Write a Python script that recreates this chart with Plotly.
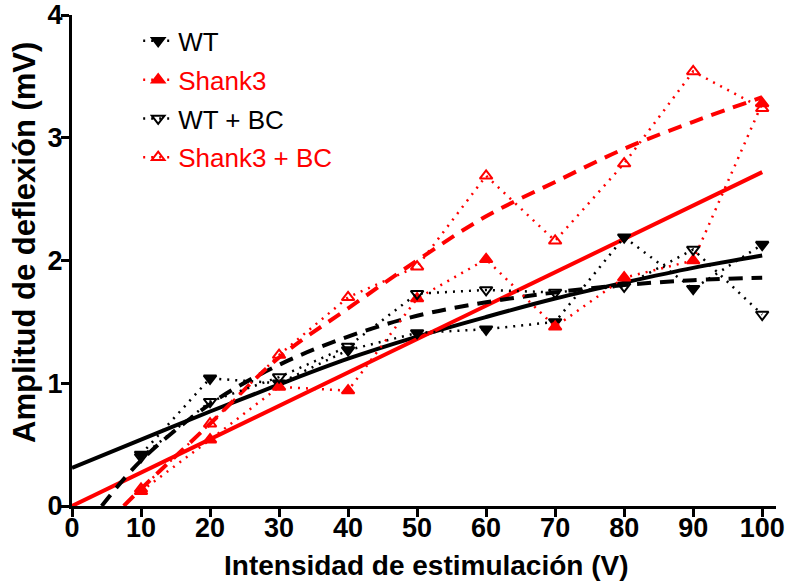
import plotly.graph_objects as go

# Data
x_stim = [10, 20, 30, 40, 50, 60, 70, 80, 90, 100]
wt = [0.42, 1.04, 1.00, 1.27, 1.41, 1.44, 1.50, 2.19, 1.77, 2.13]
shank3 = [0.12, 0.54, 0.97, 0.94, 1.69, 2.01, 1.46, 1.86, 2.00, 3.28]
wt_bc = [0.40, 0.85, 1.05, 1.30, 1.73, 1.76, 1.74, 1.79, 2.09, 1.56]
shank3_bc = [0.14, 0.67, 1.23, 1.70, 1.95, 2.69, 2.16, 2.79, 3.54, 3.24]

# Fit curves
fit_wt_x = [0, 10, 20, 30, 40, 50, 60, 70, 80, 90, 100]
fit_wt_y = [0.31, 0.54, 0.77, 0.99, 1.20, 1.38, 1.54, 1.69, 1.82, 1.94, 2.04]
fit_sh_x = [0, 100]
fit_sh_y = [0.0, 2.72]
fit_wtbc_x = [4.3, 10, 20, 30, 40, 50, 60, 70, 80, 90, 100]
fit_wtbc_y = [0.0, 0.37, 0.83, 1.15, 1.38, 1.55, 1.66, 1.74, 1.80, 1.84, 1.86]
fit_shbc_x = [7.5, 10, 20, 30, 40, 50, 60, 70, 80, 90, 100]
fit_shbc_y = [0.0, 0.14, 0.67, 1.21, 1.61, 2.00, 2.36, 2.64, 2.91, 3.13, 3.33]

x_ticks = [0, 10, 20, 30, 40, 50, 60, 70, 80, 90, 100]
y_ticks = [0, 1, 2, 3, 4]

BLACK = "#000000"
RED = "#ff0000"
FONT = "Liberation Sans, Arial, sans-serif"

fig = go.Figure()

# fit lines
fig.add_trace(go.Scatter(x=fit_wt_x, y=fit_wt_y, mode="lines", line=dict(color=BLACK, width=4, shape="spline"), showlegend=False, hoverinfo="skip"))
fig.add_trace(go.Scatter(x=fit_sh_x, y=fit_sh_y, mode="lines", line=dict(color=RED, width=4), showlegend=False, hoverinfo="skip"))
fig.add_trace(go.Scatter(x=fit_wtbc_x, y=fit_wtbc_y, mode="lines", line=dict(color=BLACK, width=4, dash="14px,9px", shape="spline"), showlegend=False, hoverinfo="skip"))
fig.add_trace(go.Scatter(x=fit_shbc_x, y=fit_shbc_y, mode="lines", line=dict(color=RED, width=4, dash="14px,9px", shape="spline"), showlegend=False, hoverinfo="skip"))

dot = "2px,6px"
series = [
    ("WT", wt, BLACK, "triangle-down"),
    ("Shank3", shank3, RED, "triangle-up"),
    ("WT + BC", wt_bc, BLACK, "triangle-down-open"),
    ("Shank3 + BC", shank3_bc, RED, "triangle-up-open"),
]
for i, (name, ys, col, sym) in enumerate(series):
    fig.add_trace(go.Scatter(
        x=x_stim, y=ys, mode="lines+markers",
        name=f"<span style='color:{col}'>{name}</span>",
        legendgroup=f"g{i}",
        line=dict(color=col, width=2.5, dash=dot),
        marker=dict(symbol=sym, size=11, color=col, line=dict(color=col, width=2)),
    ))

fig.add_annotation(
    text="Amplitud de deflexión (mV)", textangle=-90,
    xref="paper", yref="paper", x=-0.0668, y=0.5377,
    xanchor="center", yanchor="middle", showarrow=False,
    font=dict(size=31, family=FONT, weight="bold", color=BLACK),
)
fig.add_annotation(
    text="Intensidad de estimulación (V)",
    xref="paper", yref="paper", x=0.504, y=-0.1202,
    xanchor="center", yanchor="middle", showarrow=False,
    font=dict(size=28, family=FONT, weight="bold", color=BLACK),
)

fig.update_layout(
    width=790, height=587,
    margin=dict(l=72, r=14, t=15, b=81, autoexpand=False),
    paper_bgcolor="white", plot_bgcolor="white",
    font=dict(family=FONT, color=BLACK),
    legend=dict(x=0.094, y=0.995, xanchor="left", yanchor="top",
                font=dict(size=26, family=FONT), tracegroupgap=2,
                bgcolor="rgba(0,0,0,0)", itemwidth=30),
    xaxis=dict(range=[0, 102], tickvals=x_ticks, ticktext=[str(v) for v in x_ticks],
               automargin=False,
               showgrid=False, zeroline=False, showline=True, linecolor=BLACK, linewidth=3,
               ticks="outside", ticklen=8, tickwidth=3, tickcolor=BLACK,
               ticklabelstandoff=-12, ticklabeloverflow="allow",
               tickfont=dict(size=27, family=FONT, weight="bold")),
    yaxis=dict(range=[0, 4], tickvals=y_ticks, ticktext=[str(v) for v in y_ticks],
               automargin=False,
               showgrid=False, zeroline=False, showline=True, linecolor=BLACK, linewidth=3,
               ticks="outside", ticklen=8, tickwidth=3, tickcolor=BLACK,
               ticklabelstandoff=-7, ticklabeloverflow="allow",
               tickfont=dict(size=27, family=FONT, weight="bold")),
)

fig.write_html("out.html", config={"displayModeBar": False},
               post_script="document.body.style.margin='0px';")
